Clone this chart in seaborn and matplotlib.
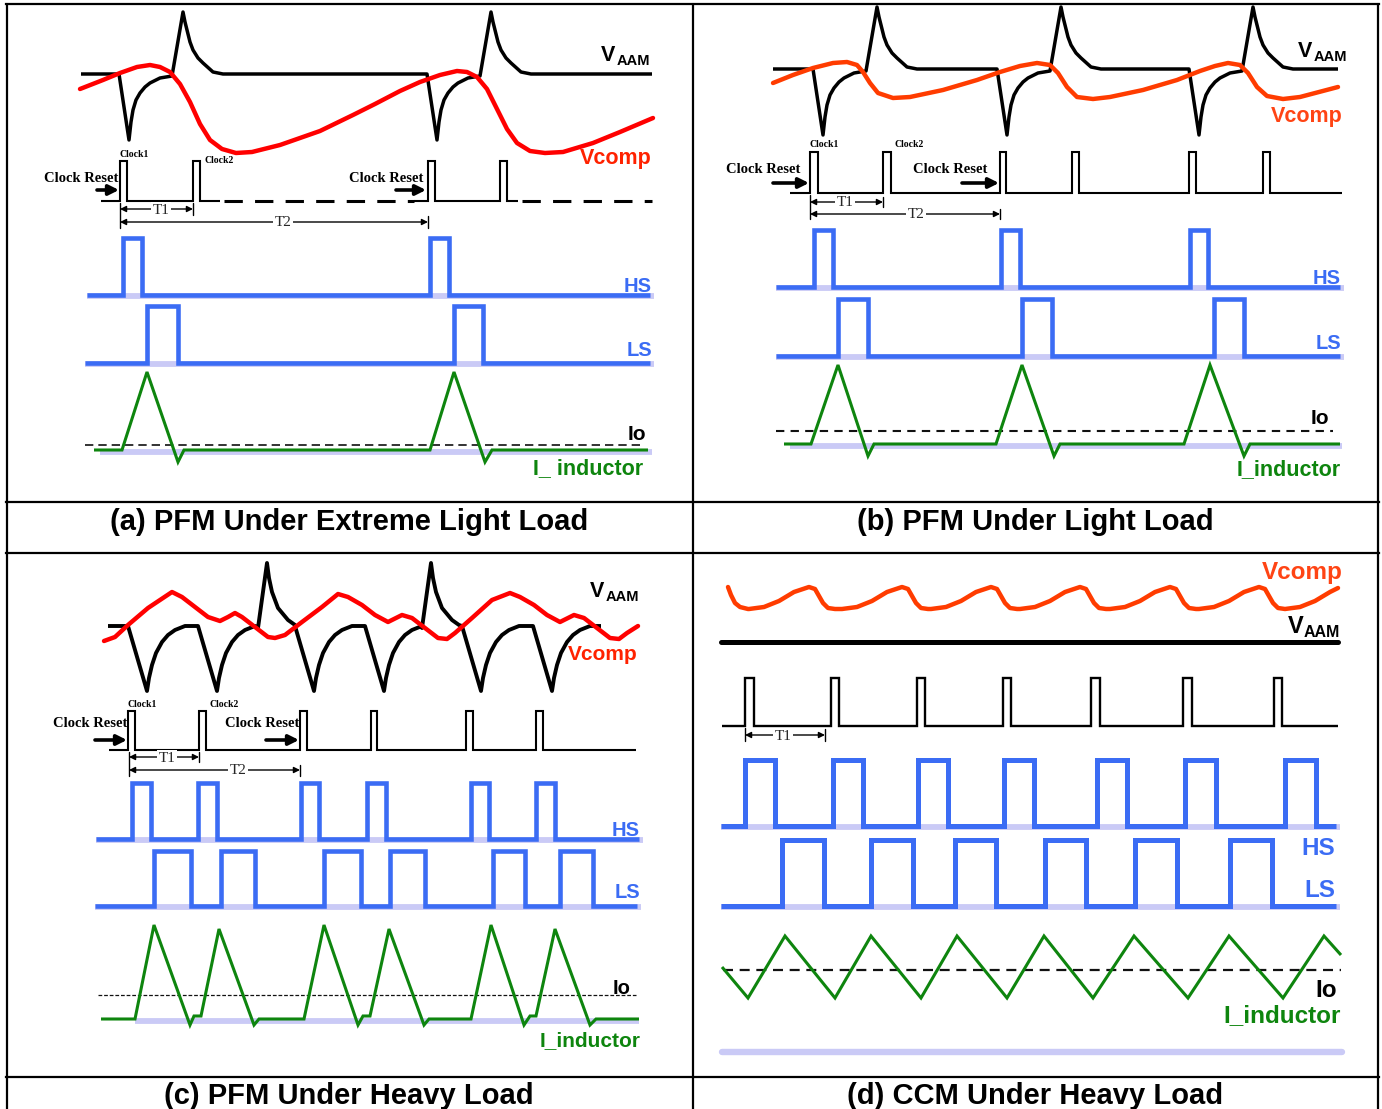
import numpy as np
import matplotlib
matplotlib.use("Agg")
import matplotlib.pyplot as plt
import seaborn as sns

# ---------------------------------------------------------------- data
# (a) PFM under extreme light load  (time axis in px, analog levels in px)
A_CLK_EDGES = [(120, 127), (193, 200), (428, 435), (500, 507)]
A_HS_EDGES = [(123, 142), (430, 449)]
A_LS_EDGES = [(147, 178), (454, 483)]
A_AAM_EVENTS = [119, 427]
A_VCOMP_X = [80, 103, 120, 137, 150, 160, 170, 180, 190, 200, 210, 222, 236, 252, 280,
             320, 353, 375, 400, 420, 440, 457, 467, 477, 487, 497, 507, 517, 530, 545,
             563, 593, 620, 653]
A_VCOMP_Y = [89, 80, 73, 67, 65, 67, 72, 84, 102, 124, 140, 149, 153, 152, 145,
             131, 115, 104, 91, 82, 75, 71, 72, 77, 89, 109, 129, 143, 151, 153,
             152, 143, 132, 118]
A_IL_X = [94, 122, 147, 178, 184, 430, 454, 485, 492, 648]
A_IL_Y = [450, 450, 372, 462, 450, 450, 372, 462, 450, 450]

# (b) PFM under light load
B_CLK_EDGES = [(810, 818), (883, 891), (1000, 1006), (1072, 1079), (1189, 1196), (1263, 1270)]
B_HS_EDGES = [(814, 833), (1001, 1020), (1190, 1208)]
B_LS_EDGES = [(838, 868), (1022, 1052), (1214, 1244)]
B_AAM_EVENTS = [813, 997, 1189]
B_VCOMP_X = [773, 793, 813, 833, 847, 857, 863, 870, 878, 893, 910, 943, 977, 1000,
             1020, 1037, 1050, 1058, 1067, 1077, 1093, 1110, 1143, 1177, 1200, 1215,
             1228, 1240, 1248, 1257, 1267, 1283, 1300, 1338]
B_VCOMP_Y = [83, 75, 68, 63, 62, 65, 72, 83, 93, 98, 97, 90, 80, 72,
             66, 63, 65, 73, 87, 97, 99, 97, 90, 80, 71, 66,
             63, 65, 73, 87, 96, 99, 97, 87]
B_IL_X = [784, 811, 838, 868, 874, 996, 1022, 1054, 1060, 1184, 1210, 1244, 1250, 1340]
B_IL_Y = [444, 444, 365, 456, 444, 444, 365, 456, 444, 444, 365, 456, 444, 444]

# (c) PFM under heavy load
C_CLK_EDGES = [(128, 135), (199, 206), (300, 307), (371, 377), (466, 473), (536, 543)]
C_HS_EDGES = [(132, 151), (198, 217), (301, 319), (367, 386), (471, 489), (536, 555)]
C_LS_EDGES = [(154, 191), (221, 255), (324, 361), (390, 425), (493, 525), (560, 593)]
C_AAM_DIPS = [128, 198, 295, 365, 462, 533]
C_AAM_SPIKES = [258, 422]
C_VCOMP_X = [104, 115, 128, 148, 172, 182, 195, 208, 220, 228, 235, 242, 255, 268, 275,
             285, 302, 322, 338, 348, 362, 375, 388, 402, 412, 425, 438, 447, 455, 472,
             492, 510, 520, 534, 547, 560, 574, 584, 597, 610, 619, 627, 638]
C_VCOMP_Y = [641, 637, 625, 608, 592, 597, 607, 617, 621, 617, 613, 617, 627, 637, 638,
             635, 622, 607, 594, 597, 605, 615, 622, 615, 618, 628, 638, 639, 633, 618,
             600, 593, 597, 605, 615, 622, 615, 618, 628, 638, 639, 633, 626]
C_IL_X = [101, 135, 154, 190, 194, 201, 219, 254, 259, 304, 324, 358, 363, 370, 389, 424,
          429, 471, 491, 524, 530, 536, 555, 590, 596, 639]
C_IL_Y = [1019, 1019, 925, 1025, 1016, 1016, 929, 1025, 1019, 1019, 925, 1025, 1016, 1016,
          929, 1025, 1019, 1019, 925, 1025, 1016, 1016, 929, 1025, 1019, 1019]

# (d) CCM under heavy load
D_CLK_EDGES = [(745, 754), (831, 839), (917, 925), (1003, 1011), (1091, 1100), (1183, 1192), (1274, 1282)]
D_HS_EDGES = [(745, 775), (833, 863), (918, 948), (1004, 1034), (1097, 1127), (1185, 1216), (1285, 1316)]
D_LS_EDGES = [(782, 824), (871, 913), (955, 996), (1045, 1086), (1135, 1177), (1230, 1272)]
D_VCOMP_PEAKS = [809, 902, 991, 1080, 1170, 1259]
D_VCOMP_HEAD_X = [728, 731, 735, 740, 748]
D_VCOMP_HEAD_Y = [587, 595, 603, 607, 609]
D_VCOMP_TAIL_X = [1300, 1315, 1330, 1338]
D_VCOMP_TAIL_Y = [607, 601, 592, 588]
D_IL_X = [722, 748, 785, 835, 871, 921, 957, 1007, 1044, 1093, 1134, 1188, 1229, 1283, 1324, 1341]
D_IL_Y = [967, 998, 936, 998, 936, 998, 936, 998, 936, 998, 936, 998, 936, 998, 936, 955]

# read waveform shapes (offsets from the event time, px up from flat level)
AB_AAM_DX = [0, 10, 12, 14, 17, 21, 26, 31, 41, 53, 64, 66, 68, 71, 74, 79, 84, 94, 104]
AB_AAM_DY = [0, -66, -48, -36, -26, -19, -13, -9, -4, -2, 62, 52, 44, 32, 24, 16, 11, 2, 0]
C_DIP_DX = [0, 19, 21, 24, 28, 34, 40, 47, 57]
C_DIP_DY = [0, -65, -52, -39, -27, -16, -9, -4, 0]
C_SPK_DX = [0, 9, 11, 14, 20, 30, 37]
C_SPK_DY = [-2, 63, 48, 34, 18, 6, 1]
D_VC_DX = [-60, -45, -30, -15, 0, 6, 10, 14, 19, 26]
D_VC_Y = [609, 607, 601, 592, 587, 589, 596, 603, 608, 609]

TITLES = ["(a) PFM Under Extreme Light Load", "(b) PFM Under Light Load",
          "(c) PFM Under Heavy Load", "(d) CCM Under Heavy Load"]

# ---------------------------------------------------------------- style
sns.set_theme(style="white")
plt.rcParams["font.family"] = ["Liberation Sans", "DejaVu Sans"]
SERIF = ["Liberation Serif", "DejaVu Serif"]

BLUE = "#3b6cf4"
LAV = "#cacaf6"
GREEN = "#0e850e"
RED = "#ff0000"
ORANGE = "#ff3c00"
RED_TXT = "#ff2200"
ORANGE_TXT = "#ff4414"

fig = plt.figure(figsize=(13.82, 11.09), dpi=100)
ax = fig.add_axes([0, 0, 1, 1])


def trace(xs, ys, color, lw, z=3, dash=None, join="miter", cap="butt"):
    sns.lineplot(x=np.asarray(xs, float), y=np.asarray(ys, float), sort=False,
                 estimator=None, ax=ax, color=color, linewidth=lw, zorder=z, legend=False)
    ln = ax.lines[-1]
    ln.set_solid_joinstyle(join)
    ln.set_solid_capstyle(cap)
    if dash is not None:
        ln.set_dashes(dash)
        ln.set_dash_capstyle("butt")


def pulse_path(x0, x1, edges, low, high):
    xs, ys = [x0], [low]
    for r, f in edges:
        xs += [r, r, f, f]
        ys += [low, high, high, low]
    xs.append(x1)
    ys.append(low)
    return xs, ys


def event_path(x0, x1, flat, events):
    xs, ys = [x0], [flat]
    for t, dxs, dys in sorted(events, key=lambda e: e[0]):
        for a, b in zip(dxs, dys):
            xs.append(t + a)
            ys.append(flat - b)
    xs.append(x1)
    ys.append(flat)
    return xs, ys


def drive(x0, x1, edges, base, top, lw=3.3):
    trace([x0, x1 + 4], [base + 1, base + 1], LAV, 4.2, z=2)
    xs, ys = pulse_path(x0, x1, edges, base, top)
    trace(xs, ys, BLUE, lw, z=3)


def inductor(xs, ys, base, x0, x1, lw=2.2):
    trace([x0, x1], [base + 2, base + 2], LAV, 4.2, z=2)
    trace(xs, ys, GREEN, lw, z=4, join="miter")


def io_line(x0, x1, y, lw, dash, color="#111111"):
    trace([x0, x1], [y, y], color, lw, z=3, dash=dash)


def label(x, y, s, color, size, ha="right"):
    ax.text(x, y, s, color=color, fontsize=size, fontweight="bold", ha=ha, va="baseline", zorder=6)


def vaam(xv, yv, size_v=15.5, size_sub=10.5):
    ax.text(xv, yv, "V", fontsize=size_v, fontweight="bold", ha="left", va="baseline", color="black")
    ax.text(xv + 16, yv + 4, "AAM", fontsize=size_sub, fontweight="bold", ha="left", va="baseline", color="black")


def serif(x, y, s, size, weight="bold", ha="left"):
    ax.text(x, y, s, fontsize=size, fontweight=weight, family=SERIF, ha=ha, va="baseline", color="black", zorder=6)


def reset_arrow(x0, x1, y):
    ax.annotate("", xy=(x1, y), xytext=(x0, y),
                arrowprops=dict(arrowstyle="-|>", color="black", lw=2.6, mutation_scale=15,
                                shrinkA=0, shrinkB=0), zorder=5)


def dim(x0, x1, y, text, cx):
    ax.annotate("", xy=(x0, y), xytext=(x1, y),
                arrowprops=dict(arrowstyle="<|-|>", color="black", lw=1.0, mutation_scale=9,
                                shrinkA=0, shrinkB=0), zorder=5)
    ax.text(cx, y + 1, text, fontsize=11, family=SERIF, ha="center", va="center", zorder=6,
            bbox=dict(facecolor="white", edgecolor="none", pad=0.8))


def tick(x, y0, y1):
    ax.plot([x, x], [y0, y1], color="black", lw=1.0, zorder=5)


# ---------------------------------------------------------------- frame
for y in [4, 502, 553, 1077]:
    ax.plot([6, 1379], [y, y], color="black", lw=1.6, zorder=7, solid_capstyle="projecting")
for x in [7, 693, 1378]:
    ax.plot([x, x], [4, 1109], color="black", lw=1.6, zorder=7)

title_kw = dict(fontsize=21, fontweight="bold", ha="center", va="baseline", color="black")
ax.text(349, 530, TITLES[0], **title_kw)
ax.text(1035, 530, TITLES[1], **title_kw)
ax.text(349, 1104, TITLES[2], **title_kw)
ax.text(1035, 1104, TITLES[3], **title_kw)

# ---------------------------------------------------------------- panel (a)
xs, ys = event_path(81, 652, 74, [(t, AB_AAM_DX, AB_AAM_DY) for t in A_AAM_EVENTS])
trace(xs, ys, "black", 2.5, z=3, join="round")
trace(A_VCOMP_X, A_VCOMP_Y, RED, 3.2, z=4, join="round", cap="round")
vaam(601, 61)
label(652, 164, "Vcomp", RED_TXT, 15.5)

xs, ys = pulse_path(101, 220, A_CLK_EDGES[:2], 201, 161)
trace(xs, ys, "black", 1.5)
trace([224, 414], [201, 201], "black", 2.2, dash=(6, 4))
xs, ys = pulse_path(414, 518, A_CLK_EDGES[2:], 201, 161)
trace(xs, ys, "black", 1.5)
trace([522, 652], [201, 201], "black", 2.2, dash=(6, 4))
serif(120, 157, "Clock1", 7)
serif(205, 163, "Clock2", 7)
serif(44, 182, "Clock Reset", 10.5)
serif(349, 182, "Clock Reset", 10.5)
reset_arrow(97, 119, 190)
reset_arrow(396, 426, 190)
tick(120, 203, 228)
tick(193, 203, 215)
tick(428, 216, 228)
dim(120, 193, 209, "T1", 161)
dim(120, 428, 222, "T2", 283)

drive(87, 650, A_HS_EDGES, 295, 238)
label(652, 292, "HS", BLUE, 14.5)
drive(85, 650, A_LS_EDGES, 363, 306)
label(652, 356, "LS", BLUE, 14.5)
io_line(85, 640, 445, 1.2, (5, 3))
inductor(A_IL_X, A_IL_Y, 450, 100, 652)
label(646, 440, "Io", "black", 15)
label(643, 474, "I_ inductor", GREEN, 15.5)

# ---------------------------------------------------------------- panel (b)
xs, ys = event_path(773, 1338, 69, [(t, AB_AAM_DX, AB_AAM_DY) for t in B_AAM_EVENTS])
trace(xs, ys, "black", 2.5, z=3, join="round")
trace(B_VCOMP_X, B_VCOMP_Y, ORANGE, 3.2, z=4, join="round", cap="round")
vaam(1298, 57)
label(1343, 122, "Vcomp", ORANGE_TXT, 15.5)

xs, ys = pulse_path(790, 1342, B_CLK_EDGES, 193, 152)
trace(xs, ys, "black", 1.5)
serif(810, 147, "Clock1", 7)
serif(895, 147, "Clock2", 7)
serif(726, 173, "Clock Reset", 10.5)
serif(913, 173, "Clock Reset", 10.5)
reset_arrow(773, 809, 183)
reset_arrow(962, 999, 183)
tick(810, 195, 219)
tick(883, 197, 207)
tick(1000, 209, 219)
dim(810, 883, 202, "T1", 845)
dim(810, 1000, 214, "T2", 916)

drive(776, 1340, B_HS_EDGES, 287, 230)
label(1341, 284, "HS", BLUE, 14.5)
drive(776, 1340, B_LS_EDGES, 356, 299)
label(1341, 349, "LS", BLUE, 14.5)
io_line(776, 1333, 431, 1.5, (4, 3))
inductor(B_IL_X, B_IL_Y, 444, 790, 1342)
label(1329, 424, "Io", "black", 15)
label(1341, 475, "I_inductor", GREEN, 15.5)

# ---------------------------------------------------------------- panel (c)
ev = [(t, C_DIP_DX, C_DIP_DY) for t in C_AAM_DIPS] + [(t, C_SPK_DX, C_SPK_DY) for t in C_AAM_SPIKES]
xs, ys = event_path(108, 601, 626, ev)
trace(xs, ys, "black", 2.8, z=3, join="round")
trace(C_VCOMP_X, C_VCOMP_Y, RED, 3.2, z=4, join="round", cap="round")
vaam(590, 597)
label(638, 660, "Vcomp", RED_TXT, 15)

xs, ys = pulse_path(109, 636, C_CLK_EDGES, 750, 711)
trace(xs, ys, "black", 1.5)
serif(128, 707, "Clock1", 7)
serif(210, 707, "Clock2", 7)
serif(53, 727, "Clock Reset", 10.5)
serif(225, 727, "Clock Reset", 10.5)
reset_arrow(95, 127, 740)
reset_arrow(266, 299, 740)
tick(129, 752, 776)
tick(199, 752, 762)
tick(300, 765, 776)
dim(129, 199, 757, "T1", 167)
dim(129, 300, 770, "T2", 238)

drive(96, 639, C_HS_EDGES, 839, 783)
label(640, 836, "HS", BLUE, 14.5)
drive(95, 637, C_LS_EDGES, 906, 851)
label(640, 898, "LS", BLUE, 14.5)
io_line(98, 636, 995, 0.9, (3, 1.5))
inductor(C_IL_X, C_IL_Y, 1019, 135, 639)
label(631, 994, "Io", "black", 14.5)
label(641, 1046, "I_inductor", GREEN, 15)

# ---------------------------------------------------------------- panel (d)
vx, vy = list(D_VCOMP_HEAD_X), list(D_VCOMP_HEAD_Y)
for p in D_VCOMP_PEAKS:
    vx += [p + d for d in D_VC_DX]
    vy += D_VC_Y
vx += D_VCOMP_TAIL_X
vy += D_VCOMP_TAIL_Y
trace(vx, vy, ORANGE, 3.2, z=4, join="round", cap="round")
label(1343, 579, "Vcomp", ORANGE_TXT, 17.5)
trace([721, 1338], [642, 642], "black", 3.6, z=3, cap="round")
vaam(1288, 633, 17, 11.5)

xs, ys = pulse_path(722, 1338, D_CLK_EDGES, 726, 678)
trace(xs, ys, "black", 1.7)
tick(745, 728, 741)
tick(825, 729, 741)
dim(745, 825, 735, "T1", 783)

drive(721, 1336, D_HS_EDGES, 826, 760, lw=3.6)
label(1335, 855, "HS", BLUE, 17.5)
drive(721, 1336, D_LS_EDGES, 906, 840, lw=3.6)
label(1335, 897, "LS", BLUE, 17.5)
io_line(723, 1341, 970, 1.6, (4.5, 3))
trace(D_IL_X, D_IL_Y, GREEN, 2.2, z=4)
label(1337, 997, "Io", "black", 17.5)
label(1341, 1022, "I_inductor", GREEN, 17.5)
trace([722, 1342], [1052, 1052], LAV, 4.6, z=2, cap="round")

ax.set_xlim(0, 1382)
ax.set_ylim(1109, 0)
ax.axis("off")
fig.savefig("out.png", dpi=100, facecolor="white")
